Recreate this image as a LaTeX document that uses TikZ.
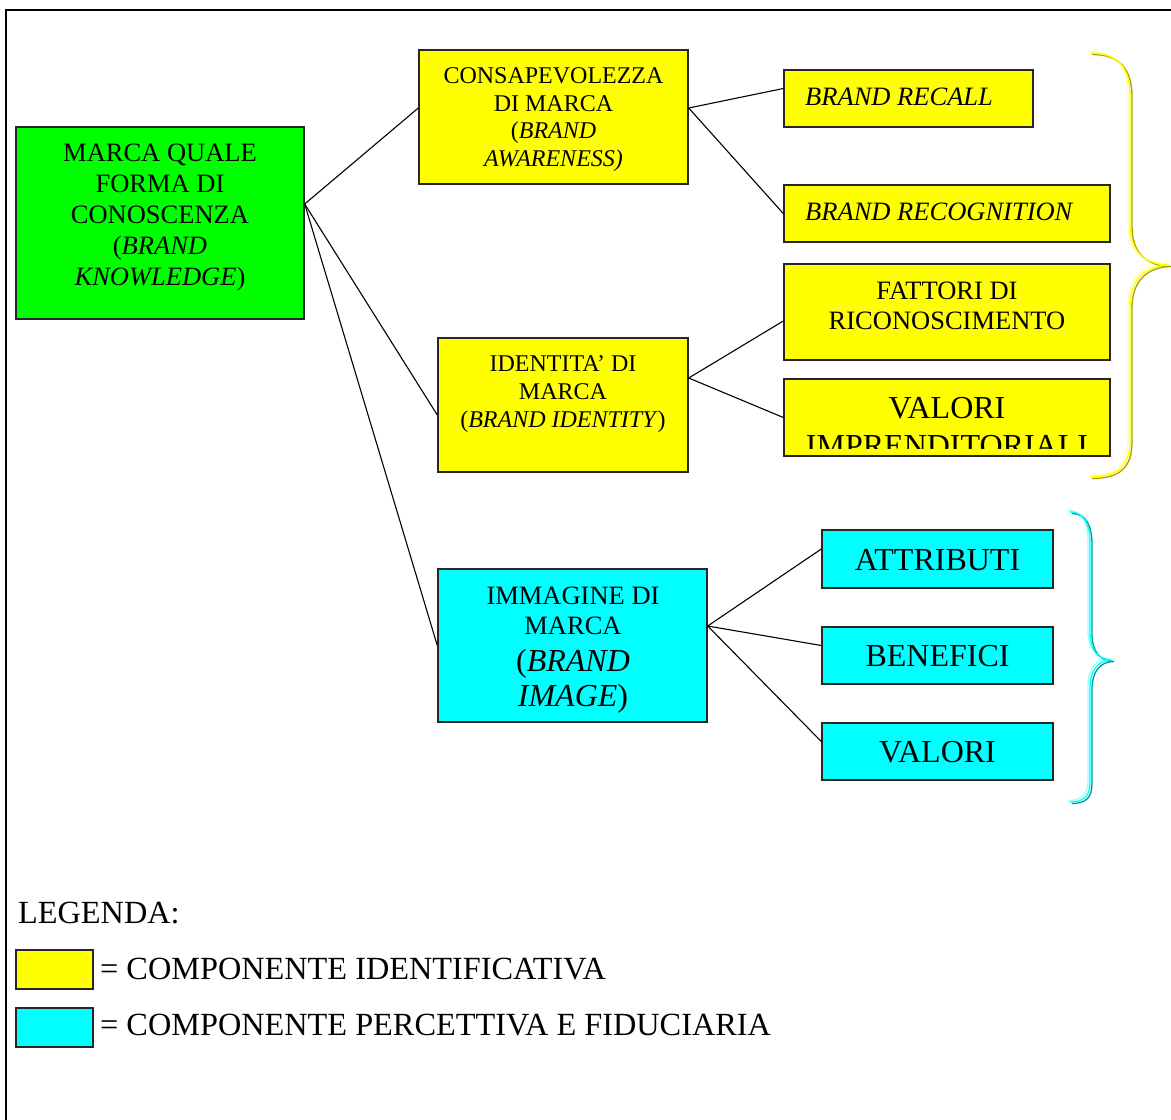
\documentclass[tikz,border=0pt]{standalone}
\usepackage{fontspec}
\setmainfont{Liberation Serif}
\usetikzlibrary{calc}
\definecolor{mgreen}{RGB}{0,255,0}
\definecolor{myellow}{RGB}{255,255,0}
\definecolor{mcyan}{RGB}{0,255,255}
\definecolor{lyellow}{RGB}{255,255,170}
\definecolor{dyellow}{RGB}{170,160,0}
\definecolor{lcyan}{RGB}{150,255,255}
\definecolor{dcyan}{RGB}{0,150,150}
\newcommand\mytext[6][base]{\node[anchor=#1, inner sep=0pt, font=\fontsize{#5}{#5}\selectfont] (#2) at (#3,#4) {#6};}
\tikzset{
  box/.style={draw=black!85, line width=1.4pt, rectangle, inner sep=0pt},
  conn/.style={draw=black, line width=1.1pt},
  frame/.style={draw=black, line width=2.2pt},
}
\begin{document}
\begin{tikzpicture}[x=1pt,y=-1pt]
\useasboundingbox (0,0) rectangle (1171,1120);
% frame
\draw[frame] (6,1125) -- (6,10) -- (1175,10);
% boxes
\node[box, fill=mgreen, minimum width=288, minimum height=192] (green) at (160,223) {};
\node[box, fill=myellow, minimum width=269, minimum height=134] (consap) at (553.5,117) {};
\node[box, fill=myellow, minimum width=249, minimum height=57] (recall) at (908.5,98.5) {};
\node[box, fill=myellow, minimum width=326, minimum height=57] (recog) at (947,213.5) {};
\node[box, fill=myellow, minimum width=326, minimum height=96] (fattori) at (947,312) {};
\node[box, fill=myellow, minimum width=326, minimum height=77] (valimpr) at (947,417.5) {};
\node[box, fill=myellow, minimum width=250, minimum height=134] (ident) at (563,405) {};
\node[box, fill=mcyan, minimum width=269, minimum height=153] (immag) at (572.5,645.5) {};
\node[box, fill=mcyan, minimum width=231, minimum height=58] (attr) at (937.5,559) {};
\node[box, fill=mcyan, minimum width=231, minimum height=57] (benef) at (937.5,655.5) {};
\node[box, fill=mcyan, minimum width=231, minimum height=57] (valori) at (937.5,751.5) {};
\node[box, fill=myellow, minimum width=77, minimum height=39] (leg1) at (54.5,969.5) {};
\node[box, fill=mcyan, minimum width=77, minimum height=39] (leg2) at (54.5,1027.5) {};
% connectors
\draw[conn] ([yshift=19pt]green.east) -- ([yshift=9pt]consap.west);
\draw[conn] ([yshift=19pt]green.east) -- ([yshift=-10pt]ident.west);
\draw[conn] ([yshift=19pt]green.east) -- (immag.west);
\draw[conn] ([yshift=9pt]consap.east) -- ([yshift=10pt]recall.west);
\draw[conn] ([yshift=9pt]consap.east) -- (recog.west);
\draw[conn] ([yshift=27pt]ident.east) -- ([yshift=-9pt]fattori.west);
\draw[conn] ([yshift=27pt]ident.east) -- (valimpr.west);
\draw[conn] ([yshift=19.5pt]immag.east) -- ([yshift=10pt]attr.west);
\draw[conn] ([yshift=19.5pt]immag.east) -- ([yshift=10pt]benef.west);
\draw[conn] ([yshift=19.5pt]immag.east) -- ([yshift=10pt]valori.west);
% texts
\mytext{g1}{160}{161.75}{26.5}{MARCA QUALE}
\mytext{g2}{160}{192.75}{26.5}{FORMA DI}
\mytext{g3}{160}{223.75}{26.5}{CONOSCENZA}
\mytext{g4}{160}{254.75}{26.5}{(\textit{BRAND}}
\mytext{g5}{160}{285.75}{26.5}{\textit{KNOWLEDGE})}
\mytext{c1}{553.5}{83}{24}{CONSAPEVOLEZZA}
\mytext{c2}{553.5}{111}{24}{DI MARCA}
\mytext{c3}{553.5}{138}{24}{(\textit{BRAND}}
\mytext{c4}{553.5}{166}{24}{\textit{AWARENESS)}}
\mytext[base west]{r1}{805}{105.7}{26.5}{\textit{BRAND RECALL}}
\mytext[base west]{r2}{805}{220.7}{26.5}{\textit{BRAND RECOGNITION}}
\mytext{f1}{947}{299.7}{26.5}{FATTORI DI}
\mytext{f2}{947}{329.7}{26.5}{RICONOSCIMENTO}
\begin{scope}
\clip ([yshift=8pt]valimpr.south west) rectangle (valimpr.north east);
\mytext{v1}{947}{418.5}{32}{VALORI}
\mytext{v2}{947}{456.5}{32}{IMPRENDITORIALI}
\end{scope}
\mytext{i1}{563}{371}{24}{IDENTITA’ DI}
\mytext{i2}{563}{399}{24}{MARCA}
\mytext{i3}{563}{427}{24}{(\textit{BRAND IDENTITY})}
\mytext{m1}{573}{604.7}{26.5}{IMMAGINE DI}
\mytext{m2}{573}{634.7}{26.5}{MARCA}
\mytext{m3}{573}{671.5}{32}{(\textit{BRAND}}
\mytext{m4}{573}{706}{32}{\textit{IMAGE})}
\mytext{a1}{937.5}{570.5}{32}{ATTRIBUTI}
\mytext{b1}{937.5}{666.5}{32}{BENEFICI}
\mytext{va1}{937.5}{762}{32}{VALORI}
\mytext[base west]{l0}{18}{923.5}{32.3}{LEGENDA:}
\mytext[base west]{l1}{100}{979.5}{32.3}{= COMPONENTE IDENTIFICATIVA}
\mytext[base west]{l2}{100}{1035.5}{32.3}{= COMPONENTE PERCETTIVA E FIDUCIARIA}
% braces
\def\ybrace{(1090,53) .. controls (1118,53) and (1130,68) .. (1130,95) -- (1130,225) .. controls (1130,252) and (1145,265) .. (1170,265) .. controls (1145,265) and (1130,280) .. (1130,306) -- (1130,440) .. controls (1130,466) and (1118,477) .. (1090,477)}
\def\cbrace{(1070,512) .. controls (1084,512) and (1090,524) .. (1090,543) -- (1090,632) .. controls (1090,650) and (1098,660) .. (1112,660) .. controls (1098,660) and (1090,670) .. (1090,688) -- (1090,782) .. controls (1090,796) and (1084,802) .. (1070,802)}
\draw[line width=1.3pt, lyellow, shift={(-2,-1.5)}] \ybrace;
\draw[line width=1.3pt, dyellow, shift={(2,1.5)}] \ybrace;
\draw[line width=1.3pt, myellow] \ybrace;
\draw[line width=1.3pt, lcyan, shift={(-2,-1.5)}] \cbrace;
\draw[line width=1.3pt, dcyan, shift={(2,1.5)}] \cbrace;
\draw[line width=1.3pt, mcyan] \cbrace;
\end{tikzpicture}
\end{document}
